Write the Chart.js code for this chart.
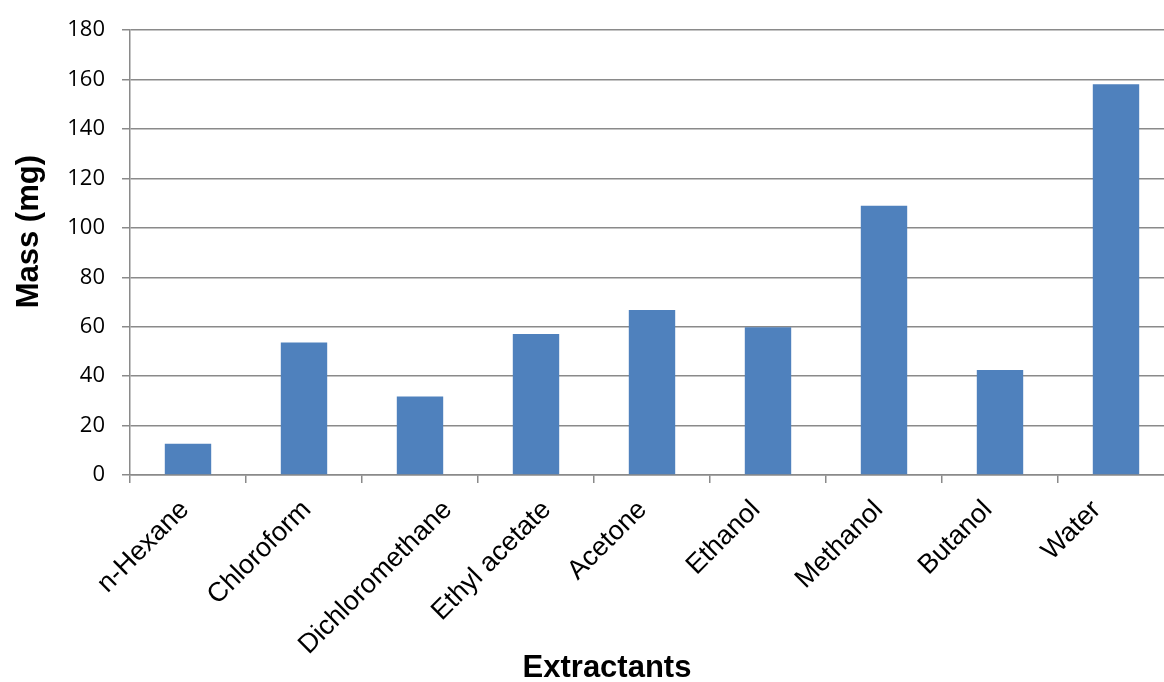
<!DOCTYPE html>
<html lang="en">
<head>
    <meta charset="UTF-8">
    <title>Mass of extract by extractant</title>
    <script src="https://cdn.jsdelivr.net/npm/chart.js"></script>
    <style>
        body {
            margin: 0;
            overflow: hidden;
            background: #fff;
        }
        /* canvas is a bit wider than the window: the last category runs past the right edge, like the original */
        #chartContainer {
            position: relative;
            width: 1214px;
            height: 682px;
        }
    </style>
</head>
<body>

    <div id="chartContainer">
        <canvas id="massChart" width="1214" height="682"></canvas>
    </div>

    <script>
        // data
        const extractants = ['n-Hexane', 'Chloroform', 'Dichloromethane', 'Ethyl acetate', 'Acetone', 'Ethanol', 'Methanol', 'Butanol', 'Water'];
        const massMg = [12.7, 53.6, 31.8, 57.1, 66.8, 59.8, 109.0, 42.5, 158.1];
        const yMin = 0;
        const yMax = 180;
        const yStep = 20;
        const yTitle = 'Mass (mg)';
        const xTitle = 'Extractants';

        const gridGrey = '#8a8a8a';
        const lineW = 1.5;
        const barBlue = '#4F81BD';
        const arial = '"Liberation Sans", Arial, sans-serif';
        const catFontSize = 27;

        // y title sits a bit above the middle of the plot in the original, so draw it by hand
        const yTitlePlugin = {
            id: 'yTitle',
            afterDraw(chart) {
                const c = chart.ctx;
                const mid = (chart.chartArea.top + chart.chartArea.bottom) / 2 - 21;
                c.save();
                c.font = 'bold 31px ' + arial;
                c.fillStyle = '#000';
                c.textAlign = 'center';
                c.textBaseline = 'middle';
                c.translate(29, mid);
                c.rotate(-Math.PI / 2);
                c.fillText(yTitle, 0, 0);
                c.restore();
            }
        };

        // 45 degree category labels placed the Excel way: every rotated label box
        // has its top on one line and is centred a fixed step left of its tick
        const xLabelPlugin = {
            id: 'xLabels',
            afterDraw(chart) {
                const xs = chart.scales.x;
                const c = chart.ctx;
                const inkH = catFontSize * 0.716;
                const top = xs.top + 22;
                c.save();
                c.font = catFontSize + 'px ' + arial;
                c.fillStyle = '#000';
                c.textAlign = 'center';
                c.textBaseline = 'alphabetic';
                xs.ticks.forEach(function (t, i) {
                    const label = extractants[i];
                    const w = c.measureText(label).width;
                    const cx = xs.getPixelForTick(i) - 46;
                    const cy = top + (w + inkH) / (2 * Math.SQRT2);
                    c.save();
                    c.translate(cx, cy);
                    c.rotate(-Math.PI / 4);
                    c.fillText(label, 0, inkH / 2);
                    c.restore();
                });
                c.restore();
            }
        };

        const ctx = document.getElementById('massChart').getContext('2d');

        const chart = new Chart(ctx, {
            type: 'bar',
            data: {
                labels: extractants,
                datasets: [{
                    label: yTitle,
                    data: massMg,
                    backgroundColor: barBlue,
                    borderWidth: 0,
                    categoryPercentage: 1.0,
                    barPercentage: 0.4
                }]
            },
            plugins: [yTitlePlugin, xLabelPlugin],
            options: {
                responsive: false,
                animation: false,
                devicePixelRatio: 1,
                layout: {
                    padding: { top: 29, left: 0, right: 0, bottom: 0 }
                },
                plugins: {
                    legend: { display: false },
                    tooltip: { enabled: false },
                    // x axis title drawn as chart title so it centres on the whole canvas
                    title: {
                        display: true,
                        position: 'bottom',
                        text: xTitle,
                        color: '#000',
                        font: { family: arial, size: 31, weight: 'bold', lineHeight: 0.9 },
                        padding: { top: 0, bottom: 0 }
                    }
                },
                scales: {
                    x: {
                        offset: true,
                        grid: {
                            display: true,
                            drawOnChartArea: false,
                            drawTicks: true,
                            tickLength: 8,
                            color: gridGrey,
                            lineWidth: lineW,
                            offset: true
                        },
                        border: { display: true, color: gridGrey, width: lineW },
                        ticks: {
                            display: false,
                            autoSkip: false
                        },
                        afterFit: function (scale) {
                            scale.height = 179;
                        }
                    },
                    y: {
                        min: yMin,
                        max: yMax,
                        grid: {
                            color: gridGrey,
                            lineWidth: lineW,
                            drawTicks: true,
                            tickLength: 8
                        },
                        border: { display: true, color: gridGrey, width: lineW },
                        ticks: {
                            stepSize: yStep,
                            color: '#000',
                            font: { family: '"Open Sans", sans-serif', size: 22 },
                            padding: 17
                        },
                        afterFit: function (scale) {
                            scale.width = 130;
                        }
                    },
                    // empty axis on the right, only to keep space so the title centres where it should
                    spacer: {
                        position: 'right',
                        display: true,
                        grid: { display: false },
                        border: { display: false },
                        ticks: { display: false },
                        afterFit: function (scale) {
                            scale.width = 40;
                        }
                    }
                }
            }
        });
    </script>
</body>
</html>
